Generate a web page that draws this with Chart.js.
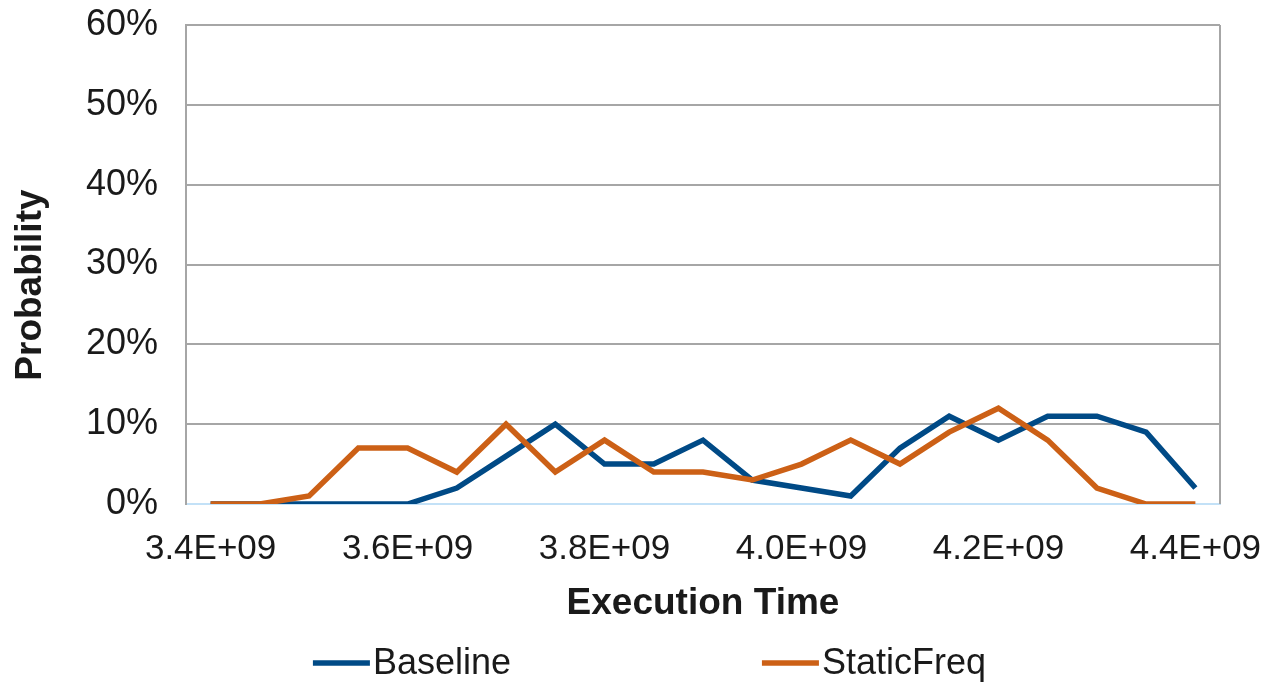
<!DOCTYPE html>
<html>
<head>
<meta charset="utf-8">
<script src="https://cdn.jsdelivr.net/npm/chart.js@4.4.1/dist/chart.umd.min.js"></script>
<style>
  html, body { margin: 0; padding: 0; background: #fff; }
  #wrap { width: 1272px; height: 685px; }
</style>
</head>
<body>
<div id="wrap"><canvas id="myChart" width="1272" height="685"></canvas></div>
<script>
// execution time buckets (x categories)
const times = [3.40e9, 3.45e9, 3.50e9, 3.55e9, 3.60e9, 3.65e9, 3.70e9, 3.75e9, 3.80e9, 3.85e9, 3.90e9,
               3.95e9, 4.00e9, 4.05e9, 4.10e9, 4.15e9, 4.20e9, 4.25e9, 4.30e9, 4.35e9, 4.40e9]
// probability in %
const baseline   = [0, 0, 0, 0, 0, 2, 6, 10, 5, 5, 8, 3, 2, 1, 7, 11, 8, 11, 11, 9, 2]
const staticFreq = [0, 0, 1, 7, 7, 4, 10, 4, 8, 4, 4, 3, 5, 8, 5, 9, 12, 8, 2, 0, 0]
const yTicks = [0, 10, 20, 30, 40, 50, 60]

const fontFamily = '"Liberation Sans", Arial, sans-serif'
const textColor = '#1a1a1a'

function fmtExp(v) {
  let parts = v.toExponential(1).split('e')
  let exp = parts[1]
  return parts[0] + 'E' + exp[0] + exp.slice(1).padStart(2, '0')
}

// right border of the plot area
const frame = {
  id: 'frame',
  beforeDatasetsDraw(chart) {
    let a = chart.chartArea
    let ctx = chart.ctx
    ctx.save()
    ctx.strokeStyle = '#a6a6a6'
    ctx.lineWidth = 2
    ctx.beginPath()
    ctx.moveTo(a.right, a.top)
    ctx.lineTo(a.right, a.bottom)
    ctx.stroke()
    ctx.restore()
  }
}

// excel style legend, items spread out under the axis title
const bottomLegend = {
  id: 'bottomLegend',
  afterDraw(chart) {
    let ctx = chart.ctx
    let cols = [0.246, 0.599]
    let y = 663
    ctx.save()
    ctx.font = '36px ' + fontFamily
    ctx.textBaseline = 'middle'
    ctx.fillStyle = textColor
    chart.data.datasets.forEach((ds, i) => {
      let x = chart.width * cols[i]
      ctx.strokeStyle = ds.borderColor
      ctx.lineWidth = 5.5
      ctx.beginPath()
      ctx.moveTo(x, y)
      ctx.lineTo(x + 57, y)
      ctx.stroke()
      ctx.fillText(ds.label, x + 60, y + 1)
    })
    ctx.restore()
  }
}

const data = {
  labels: times,
  datasets: [{
    label: 'Baseline',
    data: baseline,
    borderColor: '#004a86',
    backgroundColor: '#004a86',
    borderWidth: 5.5,
    pointRadius: 0,
    tension: 0,
    order: 1
  }, {
    label: 'StaticFreq',
    data: staticFreq,
    borderColor: '#cc6016',
    backgroundColor: '#cc6016',
    borderWidth: 5.5,
    pointRadius: 0,
    tension: 0,
    order: 0
  }]
}

const config = {
  type: 'line',
  data,
  options: {
    responsive: false,
    animation: false,
    layout: { padding: { left: 0, right: 52, top: 25, bottom: 51 } },
    plugins: {
      legend: { display: false },
      tooltip: { enabled: false }
    },
    scales: {
      x: {
        offset: true,
        afterFit: (s) => {
          s.height = 130
          s.paddingLeft = 0
          s.paddingRight = 0
        },
        grid: { display: false, drawTicks: false },
        border: { color: '#c3e1f7', width: 2 },
        ticks: {
          autoSkip: false,
          maxRotation: 0,
          padding: 24,
          color: textColor,
          font: { family: fontFamily, size: 35 },
          callback: (v, i) => i % 4 === 0 ? fmtExp(times[i]) : null
        },
        title: {
          display: true,
          text: 'Execution Time',
          color: textColor,
          padding: { top: 0, bottom: 8 },
          font: { family: fontFamily, size: 37, weight: 'bold' }
        }
      },
      y: {
        min: yTicks[0],
        max: yTicks[yTicks.length - 1],
        afterFit: (s) => {
          s.width = 186
          s.paddingTop = 0
          s.paddingBottom = 0
        },
        afterBuildTicks: (s) => { s.ticks = yTicks.map(v => ({ value: v })) },
        grid: { color: '#a6a6a6', lineWidth: 2, drawTicks: false },
        border: { color: '#a6a6a6', width: 2 },
        ticks: {
          padding: 28,
          color: textColor,
          font: { family: fontFamily, size: 36 },
          callback: (v) => v + '%'
        },
        title: {
          display: true,
          // trailing spaces nudge the rotated title down a little, like the original
          text: 'Probability\u00a0\u00a0\u00a0\u00a0',
          color: textColor,
          padding: { top: 9, bottom: 0 },
          font: { family: fontFamily, size: 37, weight: 'bold' }
        }
      }
    }
  },
  plugins: [frame, bottomLegend]
}

window.myChart = new Chart(document.getElementById('myChart'), config)
</script>
</body>
</html>
